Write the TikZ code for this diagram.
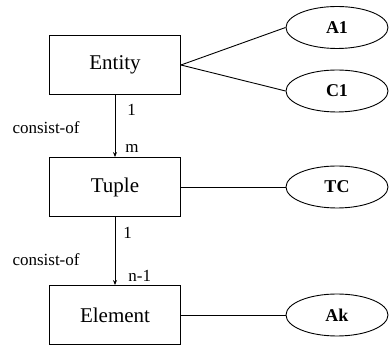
\documentclass[tikz,border=0pt]{standalone}
\usepackage{fontspec}
\setmainfont{Liberation Serif}
\usetikzlibrary{shapes.geometric,arrows.meta}
\tikzset{
  entitybox/.style={draw, line width=0.9pt, minimum width=131pt,
    minimum height=59pt, inner sep=0pt,
    font=\fontsize{21}{21}\selectfont},
  attrib/.style={ellipse, draw, line width=0.9pt, minimum width=102pt,
    minimum height=42pt, inner sep=0pt,
    font=\fontsize{18}{18}\selectfont\bfseries},
  link/.style={line width=0.9pt},
  card/.style={font=\fontsize{17}{17}\selectfont, inner sep=0pt},
}
\begin{document}
\begin{tikzpicture}[x=1pt,y=-1pt]
    \useasboundingbox (0,0) rectangle (389,347);

    % Entity boxes
    \node[entitybox] (Entity) at (115,65) {Entity};
    \node[entitybox] (Tuple) at (115,187) {Tuple};
    \node[entitybox] (Element) at (115,315) {Element};

    % Attributes
    \node[attrib] (A1) at (337,27.5) {A1};
    \node[attrib] (C1) at (337,91) {C1};
    \node[attrib] (TC) at (337,187) {TC};
    \node[attrib] (Ak) at (337,315) {Ak};

    % Connect entities to attributes
    \draw[link] (Entity.east) -- (A1.west);
    \draw[link] (Entity.east) -- (C1.west);
    \draw[link] (Tuple) -- (TC);
    \draw[link] (Element) -- (Ak);

    % consist-of links
    \draw[link, -{Stealth[length=5pt,width=4pt]}] (Entity) -- (Tuple)
        node[card, pos=0.24, anchor=west, xshift=12pt] (Card-1) {1}
        node[card, pos=0.87, anchor=west, xshift=10pt] (Card-m) {m}
        node[card, pos=0.53, anchor=east, xshift=-35pt] (Rel-1) {consist-of};
    \draw[link, -{Stealth[length=5pt,width=4pt]}] (Tuple) -- (Element)
        node[card, pos=0.23, anchor=west, xshift=8pt] (Card-2) {1}
        node[card, pos=0.86, anchor=west, xshift=13pt] (Card-n) {n-1}
        node[card, pos=0.62, anchor=east, xshift=-35pt] (Rel-2) {consist-of};
\end{tikzpicture}
\end{document}
